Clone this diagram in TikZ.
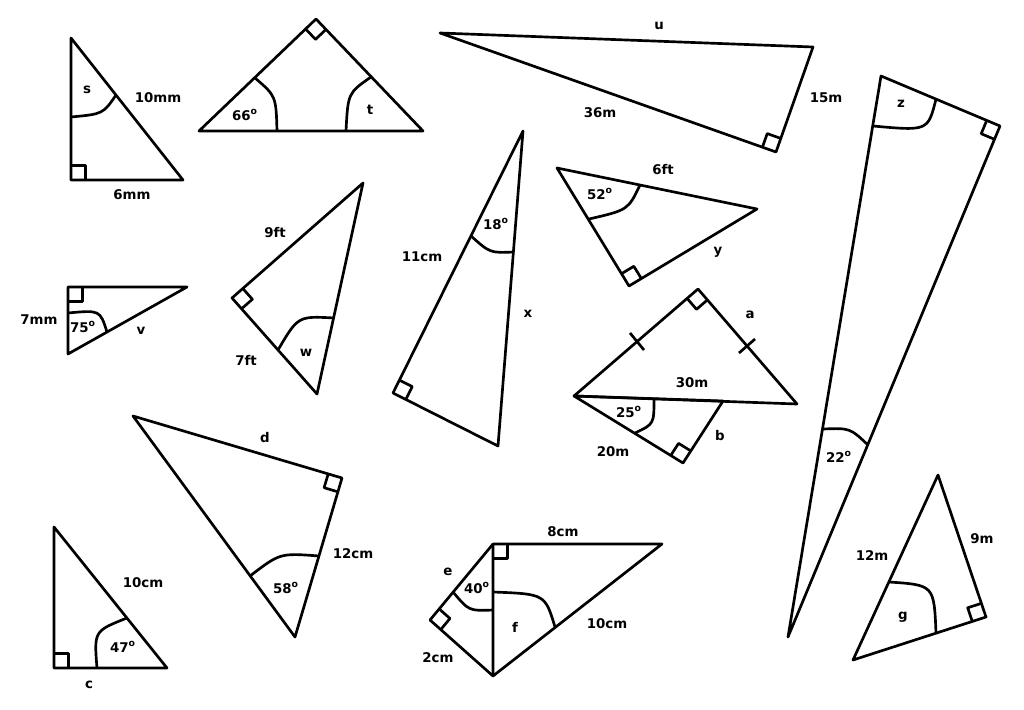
\documentclass[tikz,border=0pt]{standalone}
\usepackage{fontspec}
\setmainfont{DejaVu Sans}
\usetikzlibrary{calc}
\newcommand{\rtmark}[3]{\draw ($(#1)!0.36cm!(#2)$) -- ($(#1)!0.36cm!(#2) + (#1)!0.36cm!(#3) - (#1)$) -- ($(#1)!0.36cm!(#3)$);}
\newcommand{\dg}{\textsuperscript{o}}

\begin{document}
\begin{tikzpicture}[x=0.025cm, y=-0.025cm, line width=1.9pt, line join=round, font=\bfseries\fontsize{9.5}{11}\selectfont]
\useasboundingbox (0,0) rectangle (1024,709);
% triangle s
\coordinate (sA) at (71,38); \coordinate (sB) at (71,180); \coordinate (sC) at (183,180);
\draw (sA) -- (sB) -- (sC) -- cycle;
\rtmark{sB}{sA}{sC}
\draw (71,117) .. controls (103,114) .. (116,95);
\draw (87,90) node (lbls) {s};
\draw (158,98) node (lbl10mm) {10mm};
\draw (132,195) node (lbl6mm) {6mm};
% triangle t
\coordinate (tA) at (199,131); \coordinate (tB) at (316,19); \coordinate (tC) at (423,131);
\draw (tA) -- (tB) -- (tC) -- cycle;
\rtmark{tB}{tA}{tC}
\draw (255,78) .. controls (276,96) .. (277,131);
\draw (371,77) .. controls (348,93) .. (346,131);
\draw (245,115) node (lbl66) {66\dg};
\draw (370,110) node (lblt) {t};
% triangle u
\coordinate (uA) at (440,33); \coordinate (uB) at (813,47); \coordinate (uC) at (776,152);
\draw (uA) -- (uB) -- (uC) -- cycle;
\rtmark{uC}{uA}{uB}
\draw (659,26) node (lblu) {u};
\draw (600,113) node (lbl36m) {36m};
\draw (826,98) node (lbl15m) {15m};
% triangle z
\coordinate (zA) at (881,76); \coordinate (zB) at (1000,126); \coordinate (zC) at (788,637);
\draw (zA) -- (zB) -- (zC) -- cycle;
\rtmark{zB}{zA}{zC}
\draw (873,126) .. controls (928,131) .. (936,99);
\draw (823,429) .. controls (850,428) .. (868,445);
\draw (901,104) node (lblz) {z};
\draw (839,457) node (lbl22) {22\dg};
% triangle v
\coordinate (vA) at (68,287); \coordinate (vB) at (187,287); \coordinate (vC) at (68,354);
\draw (vA) -- (vB) -- (vC) -- cycle;
\rtmark{vA}{vB}{vC}
\draw (68,313) .. controls (100,310) .. (107,332);
\draw (39,320) node (lbl7mm) {7mm};
\draw (83,327) node (lbl75) {75\dg};
\draw (141,331) node (lblv) {v};
% triangle w
\coordinate (wA) at (363,183); \coordinate (wB) at (232,298); \coordinate (wC) at (317,394);
\draw (wA) -- (wB) -- (wC) -- cycle;
\rtmark{wB}{wA}{wC}
\draw (278,350) .. controls (298,316) .. (334,318);
\draw (275,233) node (lbl9ft) {9ft};
\draw (246,360) node (lbl7ft) {7ft};
\draw (306,353) node (lblw) {w};
% triangle x
\coordinate (xA) at (523,131); \coordinate (xB) at (393,393); \coordinate (xC) at (498,446);
\draw (xA) -- (xB) -- (xC) -- cycle;
\rtmark{xB}{xA}{xC}
\draw (471,236) .. controls (490,253) .. (514,252);
\draw (496,224) node (lbl18) {18\dg};
\draw (422,257) node (lbl11cm) {11cm};
\draw (528,314) node (lblx) {x};
% triangle y
\coordinate (yA) at (557,168); \coordinate (yB) at (757,209); \coordinate (yC) at (629,286);
\draw (yA) -- (yB) -- (yC) -- cycle;
\rtmark{yC}{yA}{yB}
\draw (589,219) .. controls (628,210) .. (640,185);
\draw (663,170) node (lbl6ft) {6ft};
\draw (600,194) node (lbl52) {52\dg};
\draw (718,252) node (lbly) {y};
% triangle a
\coordinate (aA) at (574,396); \coordinate (aB) at (698,289); \coordinate (aC) at (797,404);
\draw (aA) -- (aB) -- (aC) -- cycle;
\rtmark{aB}{aA}{aC}
\draw (630,333) -- (644,350);
\draw (739,353) -- (755,339);
\draw (692,383) node (lbl30m) {30m};
\draw (750,315) node (lbla) {a};
% triangle b
\coordinate (bA) at (574,396); \coordinate (bB) at (723,401); \coordinate (bC) at (683,463);
\draw (bA) -- (bB) -- (bC) -- cycle;
\rtmark{bC}{bA}{bB}
\draw (654,399) .. controls (654,424) .. (635,433);
\draw (629,412) node (lbl25) {25\dg};
\draw (613,452) node (lbl20m) {20m};
\draw (720,436) node (lblb) {b};
% triangle d
\coordinate (dA) at (133,416); \coordinate (dB) at (342,478); \coordinate (dC) at (295,637);
\draw (dA) -- (dB) -- (dC) -- cycle;
\rtmark{dB}{dA}{dC}
\draw (250,576) .. controls (280,553) .. (319,556);
\draw (265,438) node (lbld) {d};
\draw (353,554) node (lbl12cm) {12cm};
\draw (286,588) node (lbl58) {58\dg};
% triangle c
\coordinate (cA) at (54,527); \coordinate (cB) at (54,668); \coordinate (cC) at (167,668);
\draw (cA) -- (cB) -- (cC) -- cycle;
\rtmark{cB}{cA}{cC}
\draw (97,668) .. controls (94,631) .. (127,618);
\draw (143,583) node (lbl10cm) {10cm};
\draw (123,647) node (lbl47) {47\dg};
\draw (89,685) node (lblc) {c};
% triangles e and f
\coordinate (eP) at (493,544); \coordinate (eQ) at (662,544); \coordinate (eR) at (493,676); \coordinate (eL) at (430,620);
\draw (eP) -- (eQ) -- (eR) -- cycle;
\draw (eP) -- (eL) -- (eR);
\rtmark{eP}{eQ}{eR}
\rtmark{eL}{eP}{eR}
\draw (453,592) .. controls (469,611) .. (493,610);
\draw (493,592) .. controls (545,594) .. (555,627);
\draw (563,532) node (lbl8cm) {8cm};
\draw (448,572) node (lble) {e};
\draw (477,588) node (lbl40) {40\dg};
\draw (515,627) node (lblf) {f};
\draw (607,624) node (lbl10cmb) {10cm};
\draw (438,658) node (lbl2cm) {2cm};
% triangle g
\coordinate (gA) at (938,475); \coordinate (gB) at (986,617); \coordinate (gC) at (853,660);
\draw (gA) -- (gB) -- (gC) -- cycle;
\rtmark{gB}{gA}{gC}
\draw (889,582) .. controls (934,585) .. (936,633);
\draw (872,556) node (lbl12m) {12m};
\draw (982,539) node (lbl9m) {9m};
\draw (903,617) node (lblg) {g};
\end{tikzpicture}
\end{document}
